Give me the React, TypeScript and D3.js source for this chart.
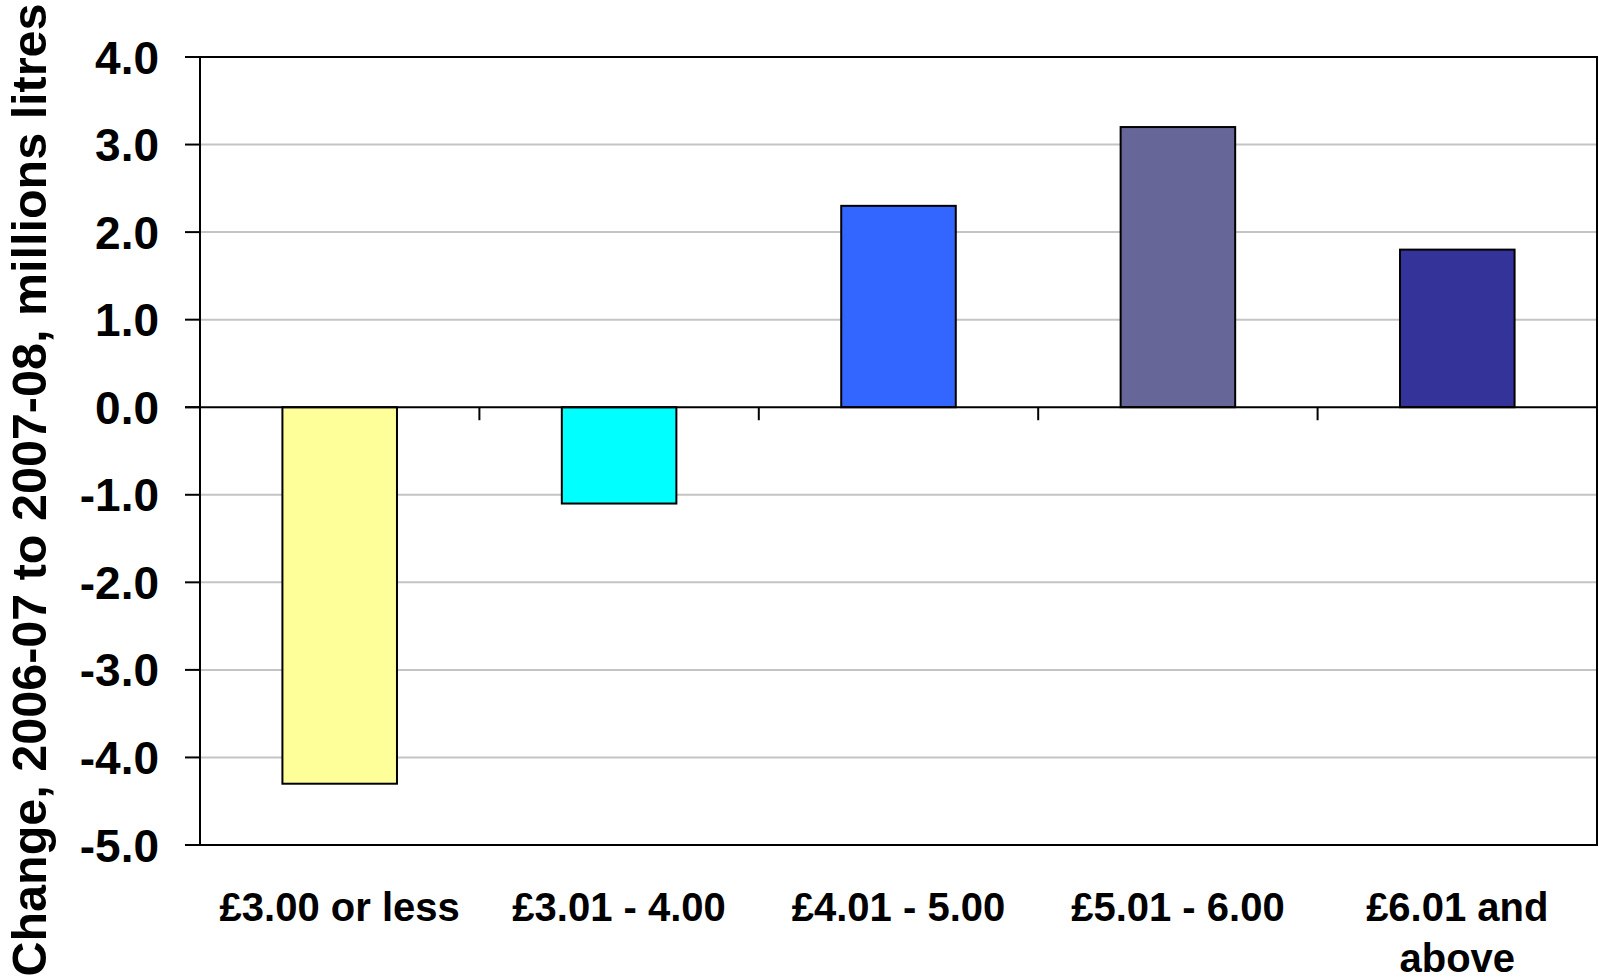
import React from "react";
import * as d3 from "d3";

// Price bands and change in volume (millions of litres), 2006-07 to 2007-08
const categories: string[][] = [
  ["£3.00 or less"],
  ["£3.01 - 4.00"],
  ["£4.01 - 5.00"],
  ["£5.01 - 6.00"],
  ["£6.01 and", "above"],
];
const values: number[] = [-4.3, -1.1, 2.3, 3.2, 1.8];
const barColors: string[] = ["#FFFF99", "#00FFFF", "#3366FF", "#666699", "#333399"];
const yTicks: number[] = [-5, -4, -3, -2, -1, 0, 1, 2, 3, 4];
const yTitle = "Change, 2006-07 to 2007-08, millions litres";

const W = 1599;
const H = 978;
const plot = { left: 200, right: 1597, top: 57, bottom: 845 };
const FONT = "'Liberation Sans', Arial, Helvetica, sans-serif";

// one decimal place, with a plain hyphen for negatives
const fmt = (t: number) => d3.format(".1f")(t).replace("\u2212", "-");

export default function App() {
  const keys = categories.map((c) => c.join(" "));
  const x = d3
    .scaleBand<string>()
    .domain(keys)
    .range([plot.left, plot.right])
    .paddingInner(0.59)
    .paddingOuter(0.295);
  const y = d3.scaleLinear().domain([-5, 4]).range([plot.bottom, plot.top]);
  const step = x.step();
  const y0 = y(0);

  return (
    <svg
      width={W}
      height={H}
      viewBox={`0 0 ${W} ${H}`}
      style={{ position: "absolute", left: 0, top: 0, background: "#fff" }}
      fontFamily={FONT}
    >
      {/* horizontal gridlines */}
      {yTicks
        .filter((t) => t !== 0 && t !== -5 && t !== 4)
        .map((t) => (
          <line
            key={`g${t}`}
            x1={plot.left}
            x2={plot.right}
            y1={y(t)}
            y2={y(t)}
            stroke="#C4C4C4"
            strokeWidth={2}
          />
        ))}

      {/* bars */}
      {values.map((v, i) => {
        const bx = x(keys[i])!;
        const top = Math.min(y(v), y0);
        const h = Math.abs(y(v) - y0);
        return (
          <rect
            key={`b${i}`}
            x={bx}
            y={top}
            width={x.bandwidth()}
            height={h}
            fill={barColors[i]}
            stroke="#000"
            strokeWidth={2}
          />
        );
      })}

      {/* plot frame */}
      <rect
        x={plot.left}
        y={plot.top}
        width={plot.right - plot.left}
        height={plot.bottom - plot.top}
        fill="none"
        stroke="#000"
        strokeWidth={2}
      />

      {/* zero line / category axis */}
      <line x1={plot.left - 15} x2={plot.right} y1={y0} y2={y0} stroke="#000" strokeWidth={2} />
      {d3.range(1, keys.length).map((i) => (
        <line
          key={`ct${i}`}
          x1={plot.left + i * step}
          x2={plot.left + i * step}
          y1={y0}
          y2={y0 + 13}
          stroke="#000"
          strokeWidth={2}
        />
      ))}

      {/* value axis ticks and labels */}
      {yTicks.map((t) => (
        <g key={`yt${t}`}>
          <line x1={plot.left - 15} x2={plot.left} y1={y(t)} y2={y(t)} stroke="#000" strokeWidth={2} />
          <text
            x={159}
            y={y(t) + 16.5}
            textAnchor="end"
            fontSize={46}
            fontWeight="bold"
            fill="#000"
          >
            {fmt(t)}
          </text>
        </g>
      ))}

      {/* category labels */}
      {categories.map((lines, i) => {
        const cx = x(keys[i])! + x.bandwidth() / 2;
        return (
          <text key={`cl${i}`} x={cx} y={921} textAnchor="middle" fontSize={40} fontWeight="bold" fill="#000">
            {lines.map((ln, j) => (
              <tspan key={j} x={cx} dy={j === 0 ? 0 : 51}>
                {ln}
              </tspan>
            ))}
          </text>
        );
      })}

      {/* value axis title */}
      <text
        transform={`translate(46, 490) rotate(-90)`}
        textAnchor="middle"
        fontSize={48.5}
        fontWeight="bold"
        fill="#000"
      >
        {yTitle}
      </text>
    </svg>
  );
}
